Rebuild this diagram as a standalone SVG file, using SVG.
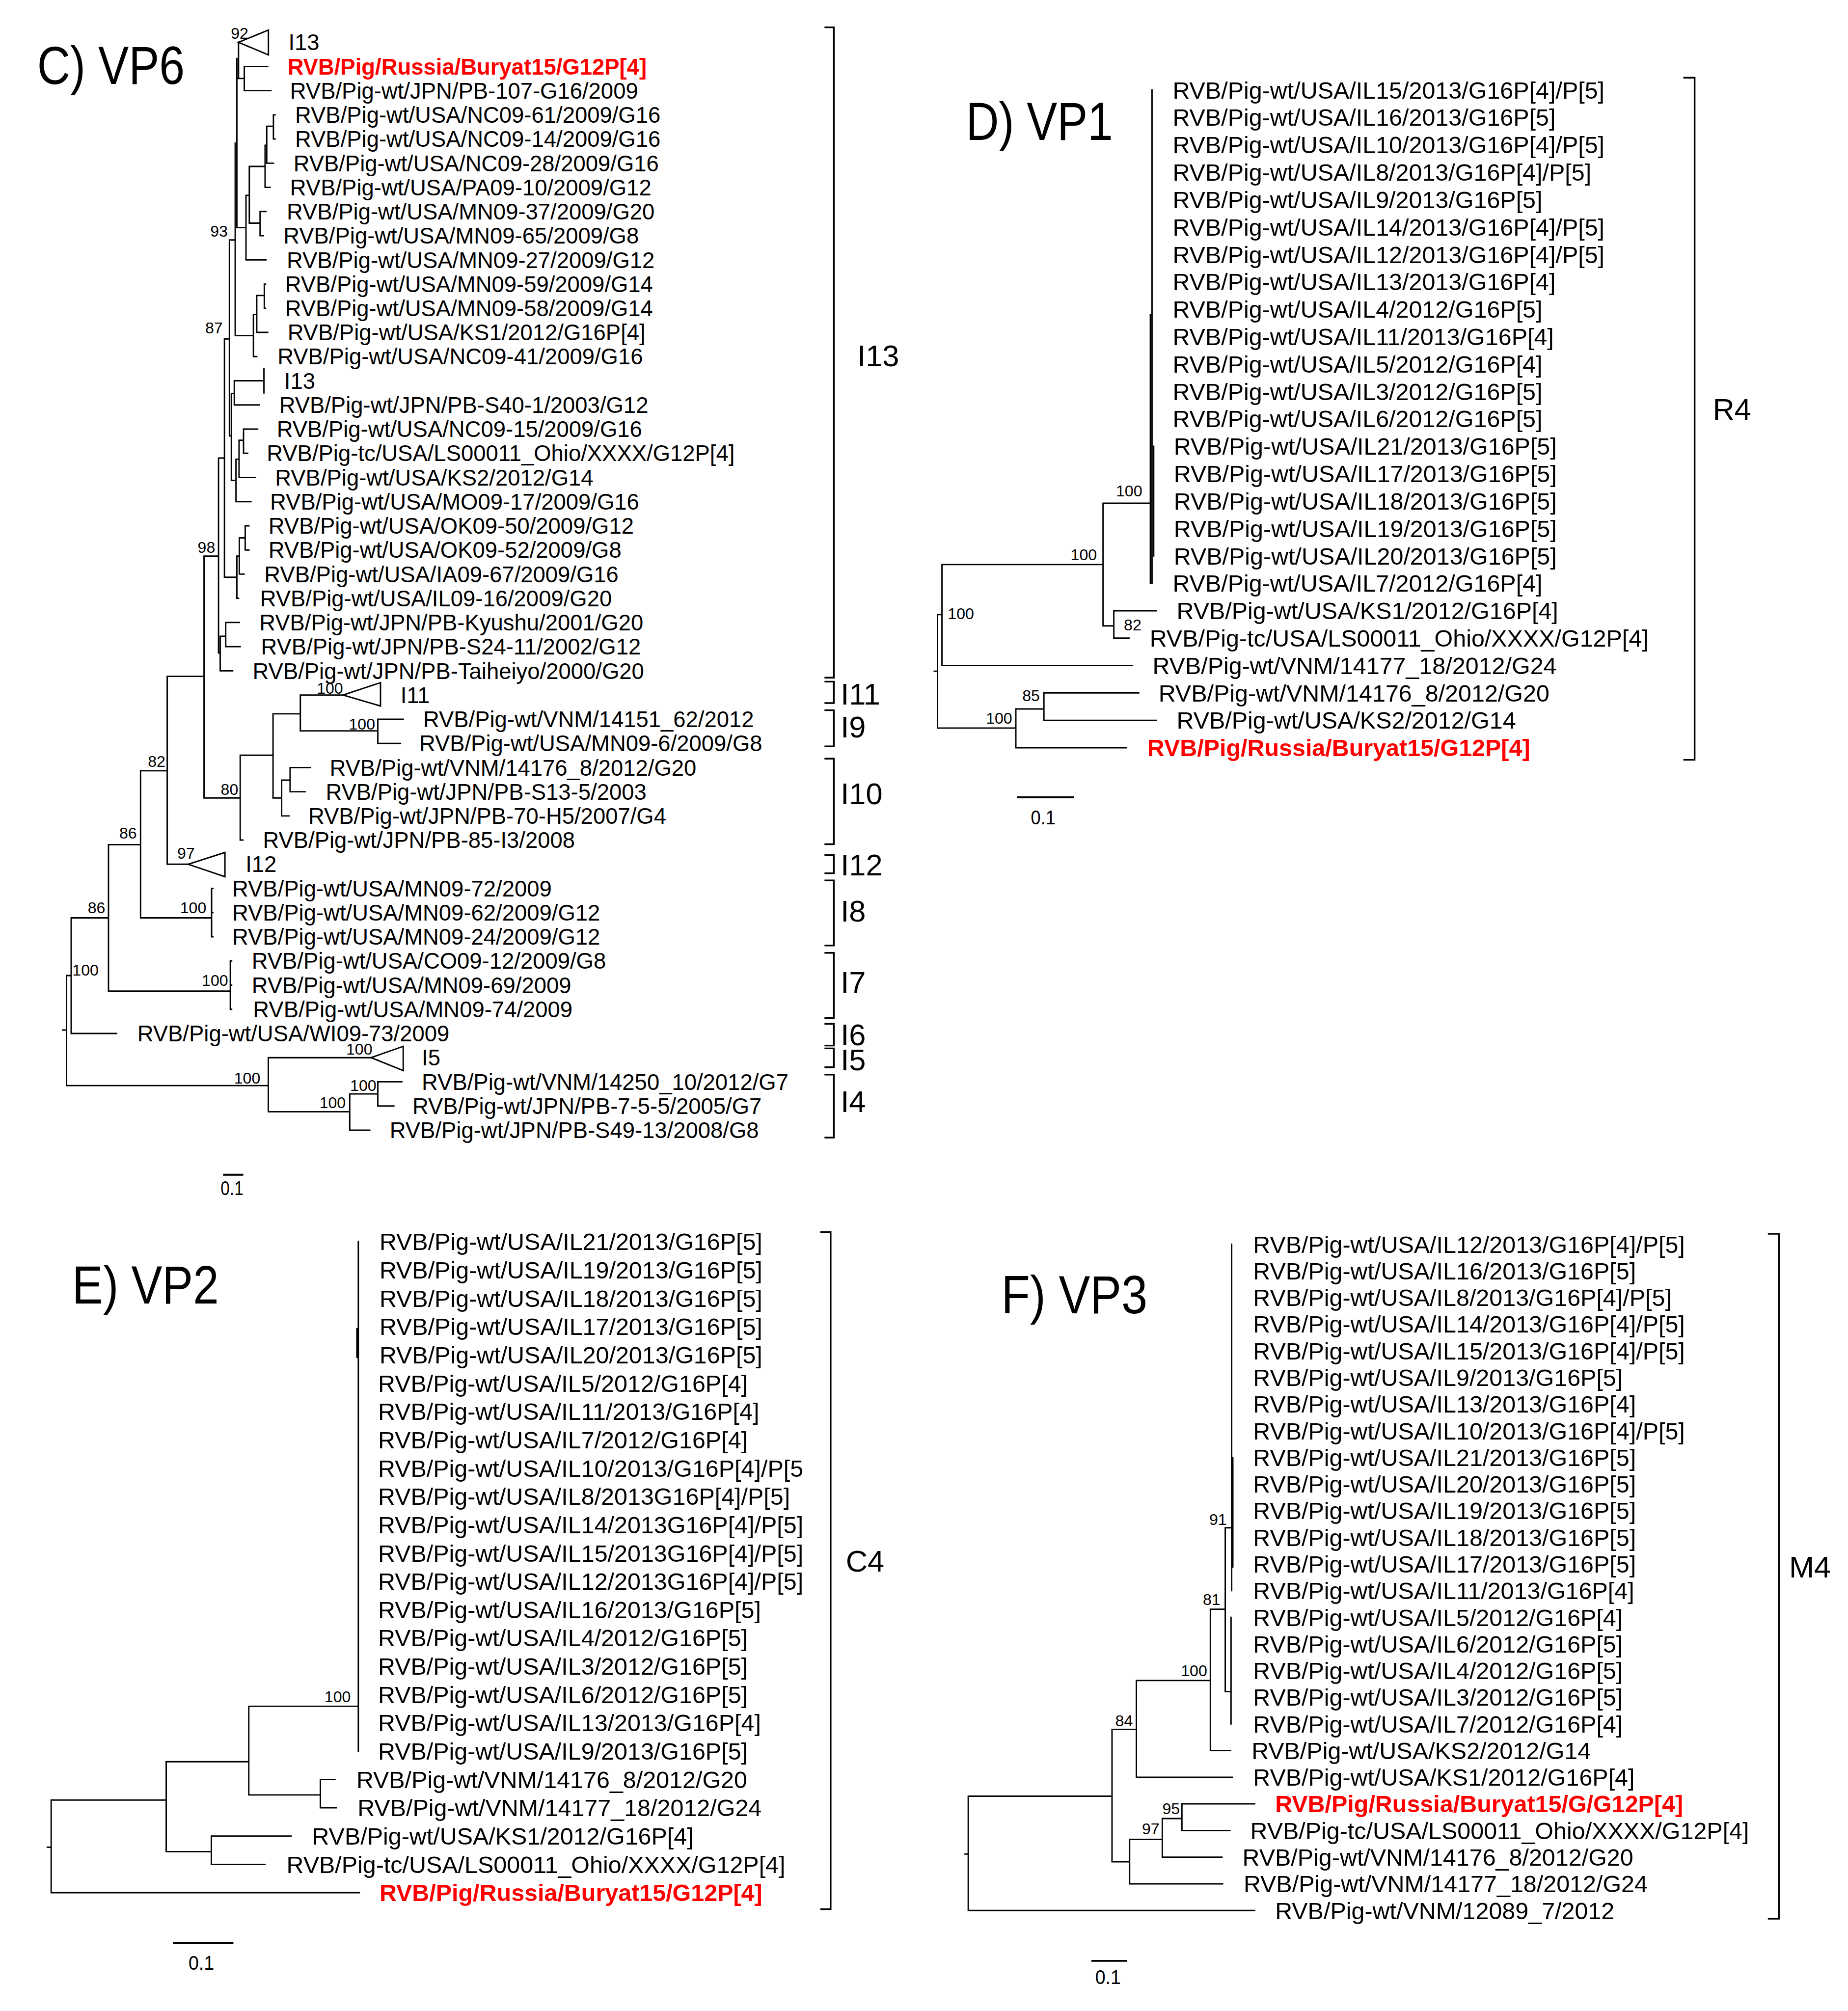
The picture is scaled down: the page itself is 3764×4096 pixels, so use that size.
<svg xmlns="http://www.w3.org/2000/svg" width="3764" height="4096" viewBox="0 0 3764 4096">
<style>
.br{fill:none;stroke:#000;stroke-width:1.1;stroke-linecap:square}
.bk{fill:none;stroke:#000;stroke-width:1.3}
.sb{fill:none;stroke:#000;stroke-width:1.5}
text{font-family:"Liberation Sans",Arial,Helvetica,sans-serif;fill:#000}
.l6{font-size:17.4px}
.l{font-size:18.55px}
.red{fill:#ff0000;font-weight:bold}
.bs{font-size:12.3px;text-anchor:end}
.ti{font-size:42px}
.cl{font-size:23.5px}
.sc{font-size:15.5px}
</style>
<rect width="3764" height="4096" fill="#fff"/>
<g transform="scale(2.6121)">

<!-- ================= C) VP6 ================= -->
<g id="panel-vp6">
<text class="ti" x="29" y="65.6" textLength="115" lengthAdjust="spacingAndGlyphs">C) VP6</text>
<g id="vp6-connectors">
<path class="br" d="M186,33V61.2 M184.7,61.2H190.5 M190.5,51.85V70.7 M190.5,51.85H208.7 M190.5,70.7H211.3
M184.7,45.6V177.5 M184.7,177.5H191.8 M191.8,152.3V202.65 M191.8,152.3H194.4 M194.4,129.8V174 M194.4,129.8H206.7
M206.7,113.3V146.1 M206.7,146.1H210.6 M206.7,113.3H208 M208,98.5V127.25 M208,127.25H213.2 M208,98.5H213.2
M213.2,89.55V108.4 M213.2,89.55H214.5 M213.2,108.4H214.5
M194.4,174H202.8 M202.8,164.95V183.8 M202.8,164.95H207.4 M202.8,183.8H205.4 M191.8,202.65H207.4
M183.4,111.6V261.7 M183.4,261.7H197.6 M197.6,245.2V278.05 M197.6,245.2H200.2 M197.6,278.05H200.2
M200.2,230.4V259.2 M200.2,230.4H206.1 M206.1,221.5V240.35 M206.1,221.5H207 M206.1,240.35H207 M200.2,259.2H208.7
M178.9,187.1H183.4 M178.9,187.1V339.9 M178.9,339.9H180.4 M180.4,306.9V374.6 M180.4,306.9H182.7
M182.7,296.9V315.75 M182.7,296.9H205.8 M205.8,287.4V306.4 M182.7,315.75H202.2
M180.4,374.6H184 M184,358.1V391.15 M184,358.1H186.4 M186.4,343.3V372.3 M186.4,343.3H189.9
M189.9,334.6V353.45 M189.9,334.6H200.9 M189.9,353.45H193.1 M186.4,372.3H199 M184,391.15H195.7
M175,264.3H178.9 M175,264.3V450.1 M170.4,357.2H175 M170.4,357.2V509.1 M159.1,433.6H170.4
M191.2,410V428.85 M191.2,410H194.1 M191.2,428.85H194.1 M186.6,419.4H191.2 M186.6,419.4V447.7 M186.6,447.7H190.3
M184.7,433.6H186.6 M184.7,433.6V466.55 M184.7,466.55H186 M175,450.1H184.7
M176,485.4V504.25 M176,485.4H186.6 M176,504.25H187.3 M171.7,496.1H176 M171.7,496.1V523.1 M171.7,523.1H181.4 M170.4,509.1H171.7
M159.1,433.6V622.2 M130.4,527.4H159.1 M159.1,622.2H187.3 M187.3,588.9V655.05 M187.3,655.05H189.4 M187.3,588.9H212.9
M212.9,556.6V622.2 M212.9,556.6H234.2 M234.2,541.95V569.9 M234.2,541.95H267.5
M234.2,569.9H294.6 M294.6,560.8V579.65 M294.6,560.8H314.4 M294.6,579.65H312.3
M212.9,622.2H219.6 M219.6,608.3V636.2 M219.6,608.3H226.2 M226.2,598.5V617.35 M226.2,598.5H242.1 M226.2,617.35H237.9 M219.6,636.2H225.4
M130.4,527.4V673.9 M130.4,673.9H146.7
M109.6,601H130.4 M109.6,601V715.7 M109.6,715.7H165 M165,692.75V730.45 M165,692.75H166 M165,711.6H166 M165,730.45H166
M84.6,658.6H109.6 M84.6,658.6V772.8 M84.6,772.8H179.6 M179.6,749.3V787 M179.6,749.3H180.6 M179.6,768.15H180.6 M179.6,787H180.6
M55.5,715.7H84.6 M55.5,715.7V805.85 M55.5,805.85H90.9 M51.9,760.7H55.5 M51.9,760.7V846.5 M48.8,803.2H51.9
M51.9,846.5H209.2 M209.2,824.7V866.9 M209.2,824.7H289.4 M209.2,866.9H272.7 M272.7,853V881.25 M272.7,853H294.6
M294.6,843.55V862.4 M294.6,843.55H313.3 M294.6,862.4H307.1 M272.7,881.25H288.3"/>
<path class="br" d="M186,33L209.3,23.4V42.8Z M267.5,541.95L296.7,532.3V550.5Z M146.7,673.9L175.4,664.7V683.6Z M289.4,824.7L314.4,815.9V834.8Z"/>
</g>
<g id="vp6-leaves" class="l6">
<text id="vp6-n1" x="224.9" y="39.2">I13</text>
<text id="vp6-n2" class="red" x="224.2" y="58.05">RVB/Pig/Russia/Buryat15/G12P[4]</text>
<text id="vp6-n3" x="226.2" y="76.9">RVB/Pig-wt/JPN/PB-107-G16/2009</text>
<text id="vp6-n4" x="230.1" y="95.75">RVB/Pig-wt/USA/NC09-61/2009/G16</text>
<text id="vp6-n5" x="230.1" y="114.6">RVB/Pig-wt/USA/NC09-14/2009/G16</text>
<text id="vp6-n6" x="228.8" y="133.45">RVB/Pig-wt/USA/NC09-28/2009/G16</text>
<text id="vp6-n7" x="226.2" y="152.3">RVB/Pig-wt/USA/PA09-10/2009/G12</text>
<text id="vp6-n8" x="223.6" y="171.15">RVB/Pig-wt/USA/MN09-37/2009/G20</text>
<text id="vp6-n9" x="221" y="190">RVB/Pig-wt/USA/MN09-65/2009/G8</text>
<text id="vp6-n10" x="223.6" y="208.85">RVB/Pig-wt/USA/MN09-27/2009/G12</text>
<text id="vp6-n11" x="222.3" y="227.7">RVB/Pig-wt/USA/MN09-59/2009/G14</text>
<text id="vp6-n12" x="222.3" y="246.55">RVB/Pig-wt/USA/MN09-58/2009/G14</text>
<text id="vp6-n13" x="224.2" y="265.4">RVB/Pig-wt/USA/KS1/2012/G16P[4]</text>
<text id="vp6-n14" x="216.4" y="284.25">RVB/Pig-wt/USA/NC09-41/2009/G16</text>
<text id="vp6-n15" x="221.6" y="303.1">I13</text>
<text id="vp6-n16" x="217.7" y="321.95">RVB/Pig-wt/JPN/PB-S40-1/2003/G12</text>
<text id="vp6-n17" x="215.8" y="340.8">RVB/Pig-wt/USA/NC09-15/2009/G16</text>
<text id="vp6-n18" x="208" y="359.65">RVB/Pig-tc/USA/LS00011_Ohio/XXXX/G12P[4]</text>
<text id="vp6-n19" x="214.5" y="378.5">RVB/Pig-wt/USA/KS2/2012/G14</text>
<text id="vp6-n20" x="210.6" y="397.35">RVB/Pig-wt/USA/MO09-17/2009/G16</text>
<text id="vp6-n21" x="209.3" y="416.2">RVB/Pig-wt/USA/OK09-50/2009/G12</text>
<text id="vp6-n22" x="209.3" y="435.05">RVB/Pig-wt/USA/OK09-52/2009/G8</text>
<text id="vp6-n23" x="206.1" y="453.9">RVB/Pig-wt/USA/IA09-67/2009/G16</text>
<text id="vp6-n24" x="202.8" y="472.75">RVB/Pig-wt/USA/IL09-16/2009/G20</text>
<text id="vp6-n25" x="202.2" y="491.6">RVB/Pig-wt/JPN/PB-Kyushu/2001/G20</text>
<text id="vp6-n26" x="203.5" y="510.45">RVB/Pig-wt/JPN/PB-S24-11/2002/G12</text>
<text id="vp6-n27" x="197" y="529.3">RVB/Pig-wt/JPN/PB-Taiheiyo/2000/G20</text>
<text id="vp6-n28" x="312.3" y="548.15">I11</text>
<text id="vp6-n29" x="330" y="567">RVB/Pig-wt/VNM/14151_62/2012</text>
<text id="vp6-n30" x="326.9" y="585.85">RVB/Pig-wt/USA/MN09-6/2009/G8</text>
<text id="vp6-n31" x="257.1" y="604.7">RVB/Pig-wt/VNM/14176_8/2012/G20</text>
<text id="vp6-n32" x="254" y="623.55">RVB/Pig-wt/JPN/PB-S13-5/2003</text>
<text id="vp6-n33" x="240.4" y="642.4">RVB/Pig-wt/JPN/PB-70-H5/2007/G4</text>
<text id="vp6-n34" x="205" y="661.25">RVB/Pig-wt/JPN/PB-85-I3/2008</text>
<text id="vp6-n35" x="191.5" y="680.1">I12</text>
<text id="vp6-n36" x="181.1" y="698.95">RVB/Pig-wt/USA/MN09-72/2009</text>
<text id="vp6-n37" x="181.1" y="717.8">RVB/Pig-wt/USA/MN09-62/2009/G12</text>
<text id="vp6-n38" x="181.1" y="736.65">RVB/Pig-wt/USA/MN09-24/2009/G12</text>
<text id="vp6-n39" x="196.3" y="755.5">RVB/Pig-wt/USA/CO09-12/2009/G8</text>
<text id="vp6-n40" x="196.3" y="774.35">RVB/Pig-wt/USA/MN09-69/2009</text>
<text id="vp6-n41" x="197.3" y="793.2">RVB/Pig-wt/USA/MN09-74/2009</text>
<text id="vp6-n42" x="107.1" y="812.05">RVB/Pig-wt/USA/WI09-73/2009</text>
<text id="vp6-n43" x="328.9" y="830.9">I5</text>
<text id="vp6-n44" x="328.9" y="849.75">RVB/Pig-wt/VNM/14250_10/2012/G7</text>
<text id="vp6-n45" x="321.6" y="868.6">RVB/Pig-wt/JPN/PB-7-5-5/2005/G7</text>
<text id="vp6-n46" x="303.9" y="887.45">RVB/Pig-wt/JPN/PB-S49-13/2008/G8</text>
</g>
<g id="vp6-support" class="bs">
<text x="193.7" y="30.3">92</text>
<text x="177.6" y="184.5">93</text>
<text x="173.7" y="260">87</text>
<text x="167.8" y="430.9">98</text>
<text x="267.5" y="540.8">100</text>
<text x="292.5" y="568.7">100</text>
<text x="185.8" y="619.7">80</text>
<text x="129" y="597.9">82</text>
<text x="151.9" y="669.6">97</text>
<text x="106.7" y="653.8">86</text>
<text x="160.9" y="712.1">100</text>
<text x="82.1" y="712.1">86</text>
<text x="177.9" y="768.7">100</text>
<text x="76.9" y="760.7">100</text>
<text x="290.4" y="822.2">100</text>
<text x="203" y="845">100</text>
<text x="269.6" y="864">100</text>
<text x="293.5" y="850.6">100</text>
</g>
<g id="vp6-clades">
<path class="bk" d="M642.9,21.3H650.2V528.4H642.9 M642.9,531.5H650.2V548.2H642.9 M642.9,553.8H650.2V582H642.9 M642.9,591.6H650.2V658.3H642.9 M642.9,666.8H650.2V680.9H642.9 M642.9,686.5H650.2V737.3H642.9 M642.9,743H650.2V793.8H642.9 M642.9,798.3H650.2V815.3H642.9 M642.9,817.5H650.2V832.2H642.9 M642.9,837.9H650.2V887H642.9"/>
<g class="cl">
<text x="668.5" y="285.5">I13</text>
<text x="655.5" y="549.2">I11</text>
<text x="655.5" y="575.2">I9</text>
<text x="655.5" y="627.1">I10</text>
<text x="655.5" y="682.5">I12</text>
<text x="655.5" y="718.6">I8</text>
<text x="655.5" y="774">I7</text>
<text x="655.5" y="815.2">I6</text>
<text x="655.5" y="834.4">I5</text>
<text x="655.5" y="867.1">I4</text>
</g>
</g>
<g id="vp6-scale">
<path class="sb" d="M173.9,916H189.7"/>
<text class="sc" x="172" y="932" textLength="17.8" lengthAdjust="spacingAndGlyphs">0.1</text>
</g>
</g>

<!-- ================= D) VP1 ================= -->
<g id="panel-vp1">
<text class="ti" x="753.2" y="109.1" textLength="114.6" lengthAdjust="spacingAndGlyphs">D) VP1</text>
<g id="vp1-connectors">
<path class="br" d="M898.3,70.2V454.86 M897,245.5V454.86 M899.6,348V433.5
M860.1,392.4H897 M860.1,392.4V488 M860.1,488H868.5 M868.5,476.23V497.6 M868.5,476.23H901.8 M868.5,497.6H880.3
M734.5,440.2H860.1 M734.5,440.2V518.97 M734.5,518.97H883.1 M731,479.2H734.5 M731,479.2V567.7 M728.5,523.4H731
M731,567.7H792.1 M792.1,552.8V583.08 M792.1,552.8H814 M814,540.34V561.71 M814,540.34H887.9 M814,561.71H901.8 M792.1,583.08H878.2"/>
</g>
<g id="vp1-leaves" class="l">
<text id="vp1-n1" x="914.4" y="76.8">RVB/Pig-wt/USA/IL15/2013/G16P[4]/P[5]</text>
<text id="vp1-n2" x="914.4" y="98.17">RVB/Pig-wt/USA/IL16/2013/G16P[5]</text>
<text id="vp1-n3" x="914.4" y="119.54">RVB/Pig-wt/USA/IL10/2013/G16P[4]/P[5]</text>
<text id="vp1-n4" x="914.4" y="140.91">RVB/Pig-wt/USA/IL8/2013/G16P[4]/P[5]</text>
<text id="vp1-n5" x="914.4" y="162.28">RVB/Pig-wt/USA/IL9/2013/G16P[5]</text>
<text id="vp1-n6" x="914.4" y="183.65">RVB/Pig-wt/USA/IL14/2013/G16P[4]/P[5]</text>
<text id="vp1-n7" x="914.4" y="205.02">RVB/Pig-wt/USA/IL12/2013/G16P[4]/P[5]</text>
<text id="vp1-n8" x="914.4" y="226.39">RVB/Pig-wt/USA/IL13/2013/G16P[4]</text>
<text id="vp1-n9" x="914.4" y="247.76">RVB/Pig-wt/USA/IL4/2012/G16P[5]</text>
<text id="vp1-n10" x="914.4" y="269.13">RVB/Pig-wt/USA/IL11/2013/G16P[4]</text>
<text id="vp1-n11" x="914.4" y="290.5">RVB/Pig-wt/USA/IL5/2012/G16P[4]</text>
<text id="vp1-n12" x="914.4" y="311.87">RVB/Pig-wt/USA/IL3/2012/G16P[5]</text>
<text id="vp1-n13" x="914.4" y="333.24">RVB/Pig-wt/USA/IL6/2012/G16P[5]</text>
<text id="vp1-n14" x="915.3" y="354.61">RVB/Pig-wt/USA/IL21/2013/G16P[5]</text>
<text id="vp1-n15" x="915.3" y="375.98">RVB/Pig-wt/USA/IL17/2013/G16P[5]</text>
<text id="vp1-n16" x="915.3" y="397.35">RVB/Pig-wt/USA/IL18/2013/G16P[5]</text>
<text id="vp1-n17" x="915.3" y="418.72">RVB/Pig-wt/USA/IL19/2013/G16P[5]</text>
<text id="vp1-n18" x="915.3" y="440.09">RVB/Pig-wt/USA/IL20/2013/G16P[5]</text>
<text id="vp1-n19" x="914.4" y="461.46">RVB/Pig-wt/USA/IL7/2012/G16P[4]</text>
<text id="vp1-n20" x="917.5" y="482.83">RVB/Pig-wt/USA/KS1/2012/G16P[4]</text>
<text id="vp1-n21" x="896.5" y="504.2">RVB/Pig-tc/USA/LS00011_Ohio/XXXX/G12P[4]</text>
<text id="vp1-n22" x="898.7" y="525.57">RVB/Pig-wt/VNM/14177_18/2012/G24</text>
<text id="vp1-n23" x="903.4" y="546.94">RVB/Pig-wt/VNM/14176_8/2012/G20</text>
<text id="vp1-n24" x="917.5" y="568.31">RVB/Pig-wt/USA/KS2/2012/G14</text>
<text id="vp1-n25" class="red" x="894.6" y="589.68">RVB/Pig/Russia/Buryat15/G12P[4]</text>
</g>
<g id="vp1-support" class="bs">
<text x="890.7" y="387.1">100</text>
<text x="855.3" y="436.7">100</text>
<text x="890" y="491.6">82</text>
<text x="759.5" y="482.7">100</text>
<text x="789.3" y="564.2">100</text>
<text x="810.8" y="546.5">85</text>
</g>
<g id="vp1-clade">
<path class="bk" d="M1312.6,60.6H1321.4V592.5H1312.6"/>
<text class="cl" x="1335.5" y="327.5">R4</text>
</g>
<g id="vp1-scale">
<path class="sb" d="M792.9,621.7H837.6"/>
<text class="sc" x="803.8" y="642.9" textLength="19.3" lengthAdjust="spacingAndGlyphs">0.1</text>
</g>
</g>

<!-- ================= E) VP2 ================= -->
<g id="panel-vp2">
<text class="ti" x="56.3" y="1016.5" textLength="114.3" lengthAdjust="spacingAndGlyphs">E) VP2</text>
<g id="vp2-connectors">
<path class="br" d="M279.4,968.2V1365.46 M278.3,1036V1058.4
M194,1330.5H279.4 M194,1330.5V1399.6 M194,1399.6H249.8 M249.8,1387.53V1409.6 M249.8,1387.53H261.2 M249.8,1409.6H262.1
M129.6,1373.7H194 M129.6,1373.7V1443.8 M129.6,1443.8H164.8 M164.8,1431.67V1453.74 M164.8,1431.67H226.9 M164.8,1453.74H206.7
M39.9,1403.6H129.6 M39.9,1403.6V1475.81 M39.9,1475.81H280.2 M36.9,1440.4H39.9"/>
</g>
<g id="vp2-leaves" class="l">
<text id="vp2-n1" x="295.9" y="974.85">RVB/Pig-wt/USA/IL21/2013/G16P[5]</text>
<text id="vp2-n2" x="295.9" y="996.92">RVB/Pig-wt/USA/IL19/2013/G16P[5]</text>
<text id="vp2-n3" x="295.9" y="1018.99">RVB/Pig-wt/USA/IL18/2013/G16P[5]</text>
<text id="vp2-n4" x="295.9" y="1041.06">RVB/Pig-wt/USA/IL17/2013/G16P[5]</text>
<text id="vp2-n5" x="295.9" y="1063.13">RVB/Pig-wt/USA/IL20/2013/G16P[5]</text>
<text id="vp2-n6" x="294.8" y="1085.2">RVB/Pig-wt/USA/IL5/2012/G16P[4]</text>
<text id="vp2-n7" x="294.8" y="1107.27">RVB/Pig-wt/USA/IL11/2013/G16P[4]</text>
<text id="vp2-n8" x="294.8" y="1129.34">RVB/Pig-wt/USA/IL7/2012/G16P[4]</text>
<text id="vp2-n9" x="294.8" y="1151.41">RVB/Pig-wt/USA/IL10/2013/G16P[4]/P[5</text>
<text id="vp2-n10" x="294.8" y="1173.48">RVB/Pig-wt/USA/IL8/2013G16P[4]/P[5]</text>
<text id="vp2-n11" x="294.8" y="1195.55">RVB/Pig-wt/USA/IL14/2013G16P[4]/P[5]</text>
<text id="vp2-n12" x="294.8" y="1217.62">RVB/Pig-wt/USA/IL15/2013G16P[4]/P[5]</text>
<text id="vp2-n13" x="294.8" y="1239.69">RVB/Pig-wt/USA/IL12/2013G16P[4]/P[5]</text>
<text id="vp2-n14" x="294.8" y="1261.76">RVB/Pig-wt/USA/IL16/2013/G16P[5]</text>
<text id="vp2-n15" x="294.8" y="1283.83">RVB/Pig-wt/USA/IL4/2012/G16P[5]</text>
<text id="vp2-n16" x="294.8" y="1305.9">RVB/Pig-wt/USA/IL3/2012/G16P[5]</text>
<text id="vp2-n17" x="294.8" y="1327.97">RVB/Pig-wt/USA/IL6/2012/G16P[5]</text>
<text id="vp2-n18" x="294.8" y="1350.04">RVB/Pig-wt/USA/IL13/2013/G16P[4]</text>
<text id="vp2-n19" x="294.8" y="1372.11">RVB/Pig-wt/USA/IL9/2013/G16P[5]</text>
<text id="vp2-n20" x="277.9" y="1394.18">RVB/Pig-wt/VNM/14176_8/2012/G20</text>
<text id="vp2-n21" x="278.8" y="1416.25">RVB/Pig-wt/VNM/14177_18/2012/G24</text>
<text id="vp2-n22" x="243.3" y="1438.32">RVB/Pig-wt/USA/KS1/2012/G16P[4]</text>
<text id="vp2-n23" x="223.4" y="1460.39">RVB/Pig-tc/USA/LS00011_Ohio/XXXX/G12P[4]</text>
<text id="vp2-n24" class="red" x="295.9" y="1482.46">RVB/Pig/Russia/Buryat15/G12P[4]</text>
</g>
<g id="vp2-support" class="bs">
<text x="273.5" y="1327.1">100</text>
</g>
<g id="vp2-clade">
<path class="bk" d="M639.6,960.6H647.7V1488.7H639.6"/>
<text class="cl" x="659.5" y="1225.5">C4</text>
</g>
<g id="vp2-scale">
<path class="sb" d="M135,1515H182"/>
<text class="sc" x="147" y="1536" textLength="20" lengthAdjust="spacingAndGlyphs">0.1</text>
</g>
</g>

<!-- ================= F) VP3 ================= -->
<g id="panel-vp3">
<text class="ti" x="780.8" y="1024" textLength="114" lengthAdjust="spacingAndGlyphs">F) VP3</text>
<g id="vp3-connectors">
<path class="br" d="M960.4,970.2V1240.34 M961.3,1136.8V1221.8 M955.4,1191.3H960.4 M955.4,1191.3V1319 M955.4,1319H959.9 M959.9,1261.12V1344.24
M943.8,1254.8H955.4 M943.8,1254.8V1365.02 M943.8,1365.02H959.6 M886.1,1310.4H943.8 M886.1,1310.4V1385.8 M886.1,1385.8H960.8
M867.1,1348.5H886.1 M867.1,1348.5V1451.7 M755,1400.6H867.1 M755,1400.6V1489.7 M755,1489.7H978.3 M752.5,1445.7H755
M867.1,1451.7H880.8 M880.8,1434.3V1468.92 M880.8,1468.92H953.3 M880.8,1434.3H906.3 M906.3,1418V1448.14 M906.3,1448.14H952.8
M906.3,1418H921.6 M921.6,1406.58V1427.36 M921.6,1406.58H978.3 M921.6,1427.36H959.1"/>
</g>
<g id="vp3-leaves" class="l">
<text id="vp3-n1" x="977.1" y="976.85">RVB/Pig-wt/USA/IL12/2013/G16P[4]/P[5]</text>
<text id="vp3-n2" x="977.1" y="997.63">RVB/Pig-wt/USA/IL16/2013/G16P[5]</text>
<text id="vp3-n3" x="977.1" y="1018.41">RVB/Pig-wt/USA/IL8/2013/G16P[4]/P[5]</text>
<text id="vp3-n4" x="977.1" y="1039.19">RVB/Pig-wt/USA/IL14/2013/G16P[4]/P[5]</text>
<text id="vp3-n5" x="977.1" y="1059.97">RVB/Pig-wt/USA/IL15/2013/G16P[4]/P[5]</text>
<text id="vp3-n6" x="977.1" y="1080.75">RVB/Pig-wt/USA/IL9/2013/G16P[5]</text>
<text id="vp3-n7" x="977.1" y="1101.53">RVB/Pig-wt/USA/IL13/2013/G16P[4]</text>
<text id="vp3-n8" x="977.1" y="1122.31">RVB/Pig-wt/USA/IL10/2013/G16P[4]/P[5]</text>
<text id="vp3-n9" x="977.1" y="1143.09">RVB/Pig-wt/USA/IL21/2013/G16P[5]</text>
<text id="vp3-n10" x="977.1" y="1163.87">RVB/Pig-wt/USA/IL20/2013/G16P[5]</text>
<text id="vp3-n11" x="977.1" y="1184.65">RVB/Pig-wt/USA/IL19/2013/G16P[5]</text>
<text id="vp3-n12" x="977.1" y="1205.43">RVB/Pig-wt/USA/IL18/2013/G16P[5]</text>
<text id="vp3-n13" x="977.1" y="1226.21">RVB/Pig-wt/USA/IL17/2013/G16P[5]</text>
<text id="vp3-n14" x="977.1" y="1246.99">RVB/Pig-wt/USA/IL11/2013/G16P[4]</text>
<text id="vp3-n15" x="977.1" y="1267.77">RVB/Pig-wt/USA/IL5/2012/G16P[4]</text>
<text id="vp3-n16" x="977.1" y="1288.55">RVB/Pig-wt/USA/IL6/2012/G16P[5]</text>
<text id="vp3-n17" x="977.1" y="1309.33">RVB/Pig-wt/USA/IL4/2012/G16P[5]</text>
<text id="vp3-n18" x="977.1" y="1330.11">RVB/Pig-wt/USA/IL3/2012/G16P[5]</text>
<text id="vp3-n19" x="977.1" y="1350.89">RVB/Pig-wt/USA/IL7/2012/G16P[4]</text>
<text id="vp3-n20" x="975.9" y="1371.67">RVB/Pig-wt/USA/KS2/2012/G14</text>
<text id="vp3-n21" x="977.1" y="1392.45">RVB/Pig-wt/USA/KS1/2012/G16P[4]</text>
<text id="vp3-n22" class="red" x="994.3" y="1413.23">RVB/Pig/Russia/Buryat15/G/G12P[4]</text>
<text id="vp3-n23" x="974.9" y="1434.01">RVB/Pig-tc/USA/LS00011_Ohio/XXXX/G12P[4]</text>
<text id="vp3-n24" x="968.8" y="1454.79">RVB/Pig-wt/VNM/14176_8/2012/G20</text>
<text id="vp3-n25" x="969.7" y="1475.57">RVB/Pig-wt/VNM/14177_18/2012/G24</text>
<text id="vp3-n26" x="994.3" y="1496.35">RVB/Pig-wt/VNM/12089_7/2012</text>
</g>
<g id="vp3-support" class="bs">
<text x="956.6" y="1188.9">91</text>
<text x="951.6" y="1251.3">81</text>
<text x="941.3" y="1306.9">100</text>
<text x="883.3" y="1346.1">84</text>
<text x="904.1" y="1430.1">97</text>
<text x="920" y="1414.5">95</text>
</g>
<g id="vp3-clade">
<path class="bk" d="M1378.5,962.1H1387.1V1496.1H1378.5"/>
<text class="cl" x="1395" y="1230">M4</text>
</g>
<g id="vp3-scale">
<path class="sb" d="M851,1529H879"/>
<text class="sc" x="854" y="1547" textLength="20" lengthAdjust="spacingAndGlyphs">0.1</text>
</g>
</g>

</g>
</svg>
